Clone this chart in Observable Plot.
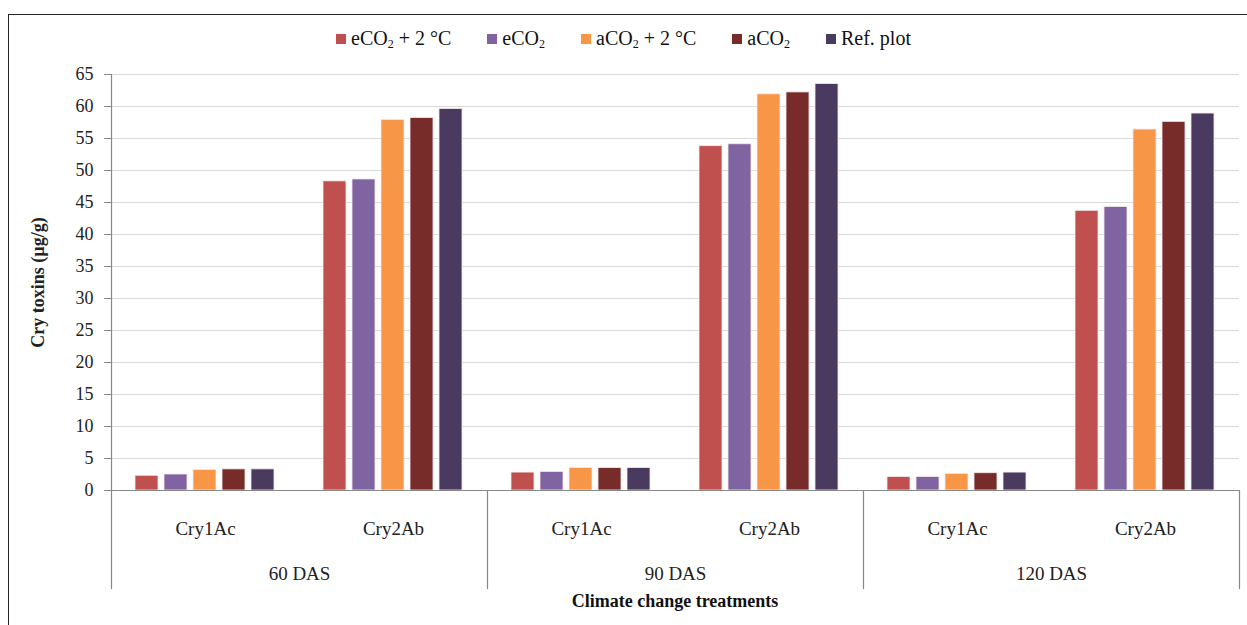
<!DOCTYPE html>
<html>
<head>
<meta charset="utf-8">
<script src="https://cdn.jsdelivr.net/npm/d3@7"></script>
<script src="https://cdn.jsdelivr.net/npm/@observablehq/plot@0.6"></script>
<style>
  html, body { margin: 0; padding: 0; width: 1247px; height: 625px; overflow: hidden; background: #fff; }
  body { font-family: "Liberation Serif", "Times New Roman", serif; position: relative; }
  #frame { position: absolute; left: 8px; top: 14px; width: 1300px; height: 700px; border: 1px solid #222; box-sizing: border-box; }
  #legend { position: absolute; top: 27px; left: 0; width: 1247px; display: flex; justify-content: center; font-size: 20px; color: #111; }
  #legend .item { display: flex; align-items: center; margin: 0 18px; white-space: nowrap; }
  #legend .sw { width: 10px; height: 10px; margin-right: 5px; display: inline-block; }
  #legend sub { font-size: 12px; vertical-align: -3px; line-height: 0; }
  #main { position: absolute; left: 0; top: 60px; }
  #axis { position: absolute; left: 0; top: 490px; }
  #xtitle { position: absolute; top: 591px; left: 111px; width: 1128px; text-align: center; font-weight: bold; font-size: 18px; color: #111; }
  svg text { fill: #222; font-family: "Liberation Serif", "Times New Roman", serif !important; }
  g[aria-label="y-axis label"] text { font-weight: bold; font-size: 18px; }
</style>
</head>
<body>
<div id="frame"></div>
<div id="legend"></div>
<div id="main"></div>
<div id="axis"></div>
<div id="xtitle">Climate change treatments</div>
<script>
// ---- data ----
const stages = ["60 DAS", "90 DAS", "120 DAS"];
const toxins = ["Cry1Ac", "Cry2Ab"];
const treatments = ["eCO2 + 2 °C", "eCO2", "aCO2 + 2 °C", "aCO2", "Ref. plot"];
const treatmentLabels = ["eCO<sub>2</sub> + 2 °C", "eCO<sub>2</sub>", "aCO<sub>2</sub> + 2 °C", "aCO<sub>2</sub>", "Ref. plot"];
const colors = ["#C0504D", "#8064A2", "#F79646", "#772C2A", "#4B3A60"];
// values per treatment, in order: 60 DAS Cry1Ac, 60 DAS Cry2Ab, 90 DAS Cry1Ac, 90 DAS Cry2Ab, 120 DAS Cry1Ac, 120 DAS Cry2Ab
const eCO2plus2 = [2.3, 48.3, 2.8, 53.8, 2.1, 43.7];
const eCO2      = [2.5, 48.6, 2.9, 54.1, 2.1, 44.3];
const aCO2plus2 = [3.2, 57.9, 3.5, 61.9, 2.6, 56.4];
const aCO2      = [3.3, 58.2, 3.5, 62.2, 2.7, 57.6];
const refPlot   = [3.3, 59.6, 3.5, 63.5, 2.8, 58.9];
const series = [eCO2plus2, eCO2, aCO2plus2, aCO2, refPlot];
const yTicks = d3.range(0, 66, 5);

// ---- build table ----
const keys = [];
stages.forEach(s => toxins.forEach(t => keys.push(s + "|" + t)));
const rows = [];
series.forEach((vals, j) => vals.forEach((v, i) => rows.push({key: keys[i], treatment: treatments[j], value: v})));
const labelRows = keys.map(k => ({stage: k.split("|")[0], toxin: k.split("|")[1]}));
const stageRows = stages.map(s => ({stage: s}));

// ---- legend ----
const legend = document.getElementById("legend");
treatments.forEach((t, j) => {
  const it = document.createElement("span");
  it.className = "item";
  it.innerHTML = `<span class="sw" style="background:${colors[j]}"></span><span>${treatmentLabels[j]}</span>`;
  legend.appendChild(it);
});

const W = 1247, ML = 111, MR = 8;
const font = {fontFamily: "'Liberation Serif', 'Times New Roman', serif", fontSize: "18px", background: "transparent", overflow: "visible"};

// ---- main chart ----
const main = Plot.plot({
  width: W, height: 431,
  marginLeft: ML, marginRight: MR, marginTop: 14, marginBottom: 1,
  style: font,
  fx: {domain: keys, padding: 0, axis: null, label: null},
  x: {type: "band", domain: treatments, paddingInner: 0.2, paddingOuter: 0.8, axis: null},
  y: {domain: [0, 65], axis: null},
  color: {domain: treatments, range: colors},
  marks: [
    Plot.gridY(yTicks, {stroke: "#d9d9d9", strokeOpacity: 1}),
    Plot.barY(rows, {fx: "key", x: "treatment", y: "value", fill: "treatment", stroke: "#f4e8e8", strokeWidth: 0.8}),
    Plot.ruleY([0], {stroke: "#888", strokeWidth: 1.2}),
    Plot.axisY({ticks: yTicks, tickSize: 7, tickPadding: 11, stroke: "#888", fontSize: 18,
      label: "Cry toxins (µg/g)", labelAnchor: "center", labelArrow: "none", labelOffset: 80}),
    Plot.frame({anchor: "left", facetAnchor: "left", stroke: "#888", strokeWidth: 1.2})
  ]
});
document.getElementById("main").appendChild(main);

// ---- hierarchical category axis ----
const axis = Plot.plot({
  width: W, height: 100,
  marginLeft: ML, marginRight: MR, marginTop: 0, marginBottom: 2,
  style: font,
  fx: {domain: stages, padding: 0, axis: null, label: null},
  x: {type: "band", domain: toxins, padding: 0, axis: null},
  marks: [
    Plot.frame({anchor: "left", stroke: "#888", strokeWidth: 1.2}),
    Plot.frame({anchor: "right", facetAnchor: "right", stroke: "#888", strokeWidth: 1.2}),
    Plot.text(labelRows, {fx: "stage", x: "toxin", text: "toxin", frameAnchor: "top", dy: 31, fontSize: 19}),
    Plot.text(stageRows, {fx: "stage", text: "stage", frameAnchor: "top", dy: 76, fontSize: 19})
  ]
});
document.getElementById("axis").appendChild(axis);
</script>
</body>
</html>
